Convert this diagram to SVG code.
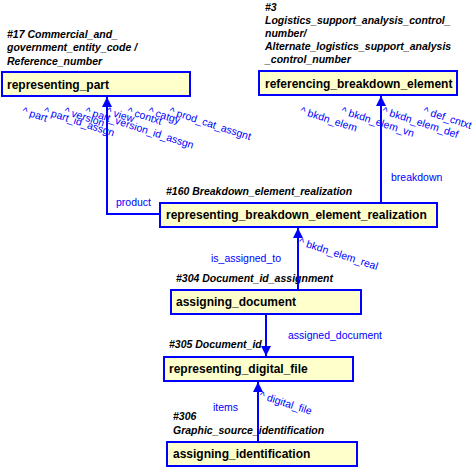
<svg xmlns="http://www.w3.org/2000/svg" width="476" height="467" viewBox="0 0 476 467">
<style>
.box{fill:#ffffcc;stroke:#0000ff;stroke-width:2}
.bl{font-family:"Liberation Sans",Arial,sans-serif;font-size:12px;font-weight:bold;fill:#000}
.ti{font-family:"Liberation Sans",Arial,sans-serif;font-size:10.5px;font-weight:bold;font-style:italic;fill:#000}
.lb{font-family:"Liberation Sans",Arial,sans-serif;font-size:10.5px;fill:#0000ff}
.cn{fill:none;stroke:#0000ff;stroke-width:2}
</style>
<defs>
<marker id="arr" markerUnits="userSpaceOnUse" markerWidth="10" markerHeight="10" viewBox="0 0 10 10" refX="10" refY="5" orient="auto">
<path d="M0,0 L10,5 L0,10 z" fill="#0000ff"/>
</marker>
</defs>
<rect width="476" height="467" fill="#ffffff"/>
<g id="representing_part">
<text class="ti" x="7" y="38">#17 Commercial_and_</text>
<text class="ti" x="7" y="51">government_entity_code /</text>
<text class="ti" x="7" y="64.5">Reference_number</text>
<rect class="box" x="2" y="72" width="188" height="24"/>
<text class="bl" x="7" y="88.5">representing_part</text>
</g>
<g id="referencing_breakdown_element">
<text class="ti" x="265" y="10.5">#3</text>
<text class="ti" x="265" y="23.8">Logistics_support_analysis_control_</text>
<text class="ti" x="265" y="37">number/</text>
<text class="ti" x="265" y="50.2">Alternate_logistics_support_analysis</text>
<text class="ti" x="265" y="63.4">_control_number</text>
<rect class="box" x="259" y="71" width="198" height="24"/>
<text class="bl" x="265" y="87.5">referencing_breakdown_element</text>
</g>
<g id="representing_breakdown_element_realization">
<text class="ti" x="166" y="195">#160 Breakdown_element_realization</text>
<rect class="box" x="160" y="203" width="277" height="24"/>
<text class="bl" x="166" y="219.3">representing_breakdown_element_realization</text>
</g>
<g id="assigning_document">
<text class="ti" x="176" y="281.5">#304 Document_id_assignment</text>
<rect class="box" x="171" y="290" width="190" height="24"/>
<text class="bl" x="176" y="306.3">assigning_document</text>
</g>
<g id="representing_digital_file">
<text class="ti" x="169" y="348">#305 Document_id</text>
<rect class="box" x="164" y="357" width="189" height="24"/>
<text class="bl" x="169" y="373.3">representing_digital_file</text>
</g>
<g id="assigning_identification">
<text class="ti" x="173" y="420">#306</text>
<text class="ti" x="173" y="433.5">Graphic_source_identification</text>
<rect class="box" x="167" y="442" width="190" height="24"/>
<text class="bl" x="173" y="458.3">assigning_identification</text>
</g>
<g id="connectors">
<path class="cn" d="M160,214 H107 V97" marker-end="url(#arr)"/>
<path class="cn" d="M381,203 V96" marker-end="url(#arr)"/>
<path class="cn" d="M298,289 V228" marker-end="url(#arr)"/>
<path class="cn" d="M266,315 V356" marker-end="url(#arr)"/>
<path class="cn" d="M258,441 V382" marker-end="url(#arr)"/>
<text class="lb" x="116" y="206">product</text>
<text class="lb" x="391" y="181">breakdown</text>
<text class="lb" x="211" y="262">is_assigned_to</text>
<text class="lb" x="288" y="339">assigned_document</text>
<text class="lb" x="213" y="411">items</text>
<text class="lb" transform="translate(21.4,113.8) rotate(18)">^ part</text>
<text class="lb" transform="translate(42.9,113.8) rotate(18)">^ part_id_assgn</text>
<text class="lb" transform="translate(63.4,113.8) rotate(18)">^ version</text>
<text class="lb" transform="translate(84.4,113.8) rotate(18)">^ part_version_id_assgn</text>
<text class="lb" transform="translate(105.4,113.8) rotate(18)">^ view</text>
<text class="lb" transform="translate(126.4,113.8) rotate(18)">^ contxt</text>
<text class="lb" transform="translate(147.4,113.8) rotate(18)">^ catgy</text>
<text class="lb" transform="translate(168.4,113.8) rotate(18)">^ prod_cat_assgnt</text>
<text class="lb" transform="translate(299.4,113.5) rotate(18)">^ bkdn_elem</text>
<text class="lb" transform="translate(340.4,113.5) rotate(18)">^ bkdn_elem_vn</text>
<text class="lb" transform="translate(381.4,113.5) rotate(18)">^ bkdn_elem_def</text>
<text class="lb" transform="translate(422.4,113.5) rotate(18)">^ def_cntxt</text>
<text class="lb" transform="translate(298.1,244.5) rotate(18)">^ bkdn_elem_real</text>
<text class="lb" transform="translate(258.7,398) rotate(18)">^ digital_file</text>
</g>
</svg>
